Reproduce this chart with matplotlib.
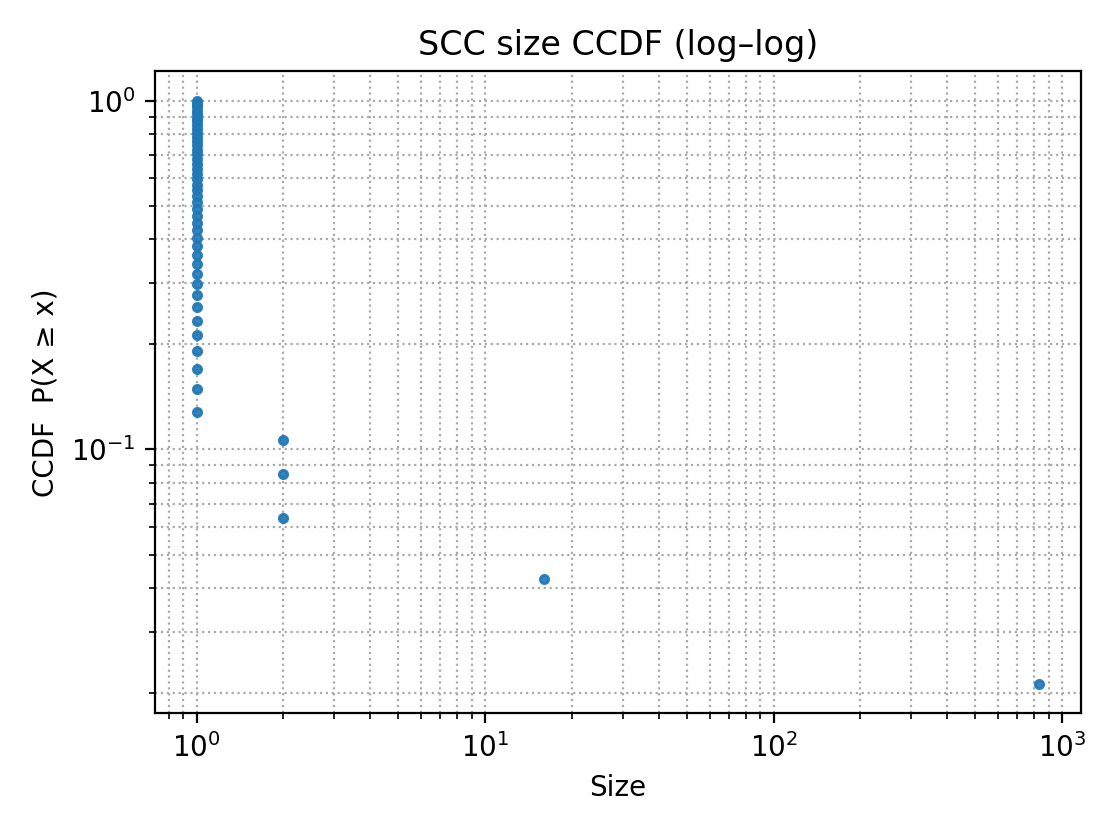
import numpy as np
import matplotlib.pyplot as plt

# component sizes (47 SCCs)
size_values = [1, 2, 16, 830]
size_counts = [42, 3, 1, 1]

sizes = np.sort(np.repeat(size_values, size_counts))
n = len(sizes)
ccdf = 1.0 - np.arange(n) / n

fig, ax = plt.subplots(figsize=(5.6, 4.2), dpi=200)
ax.loglog(sizes, ccdf, marker='o', markersize=3, linestyle='none',
          color='#1f77b4', alpha=0.9)
ax.set_xlabel('Size')
ax.set_ylabel('CCDF  P(X \u2265 x)')
ax.set_title('SCC size CCDF (log\u2013log)')
ax.grid(True, which='both', linestyle=':', linewidth=0.8, color='#aaaaaa')
fig.subplots_adjust(left=0.138, right=0.965, top=0.915, bottom=0.151)
fig.savefig('out.png')
